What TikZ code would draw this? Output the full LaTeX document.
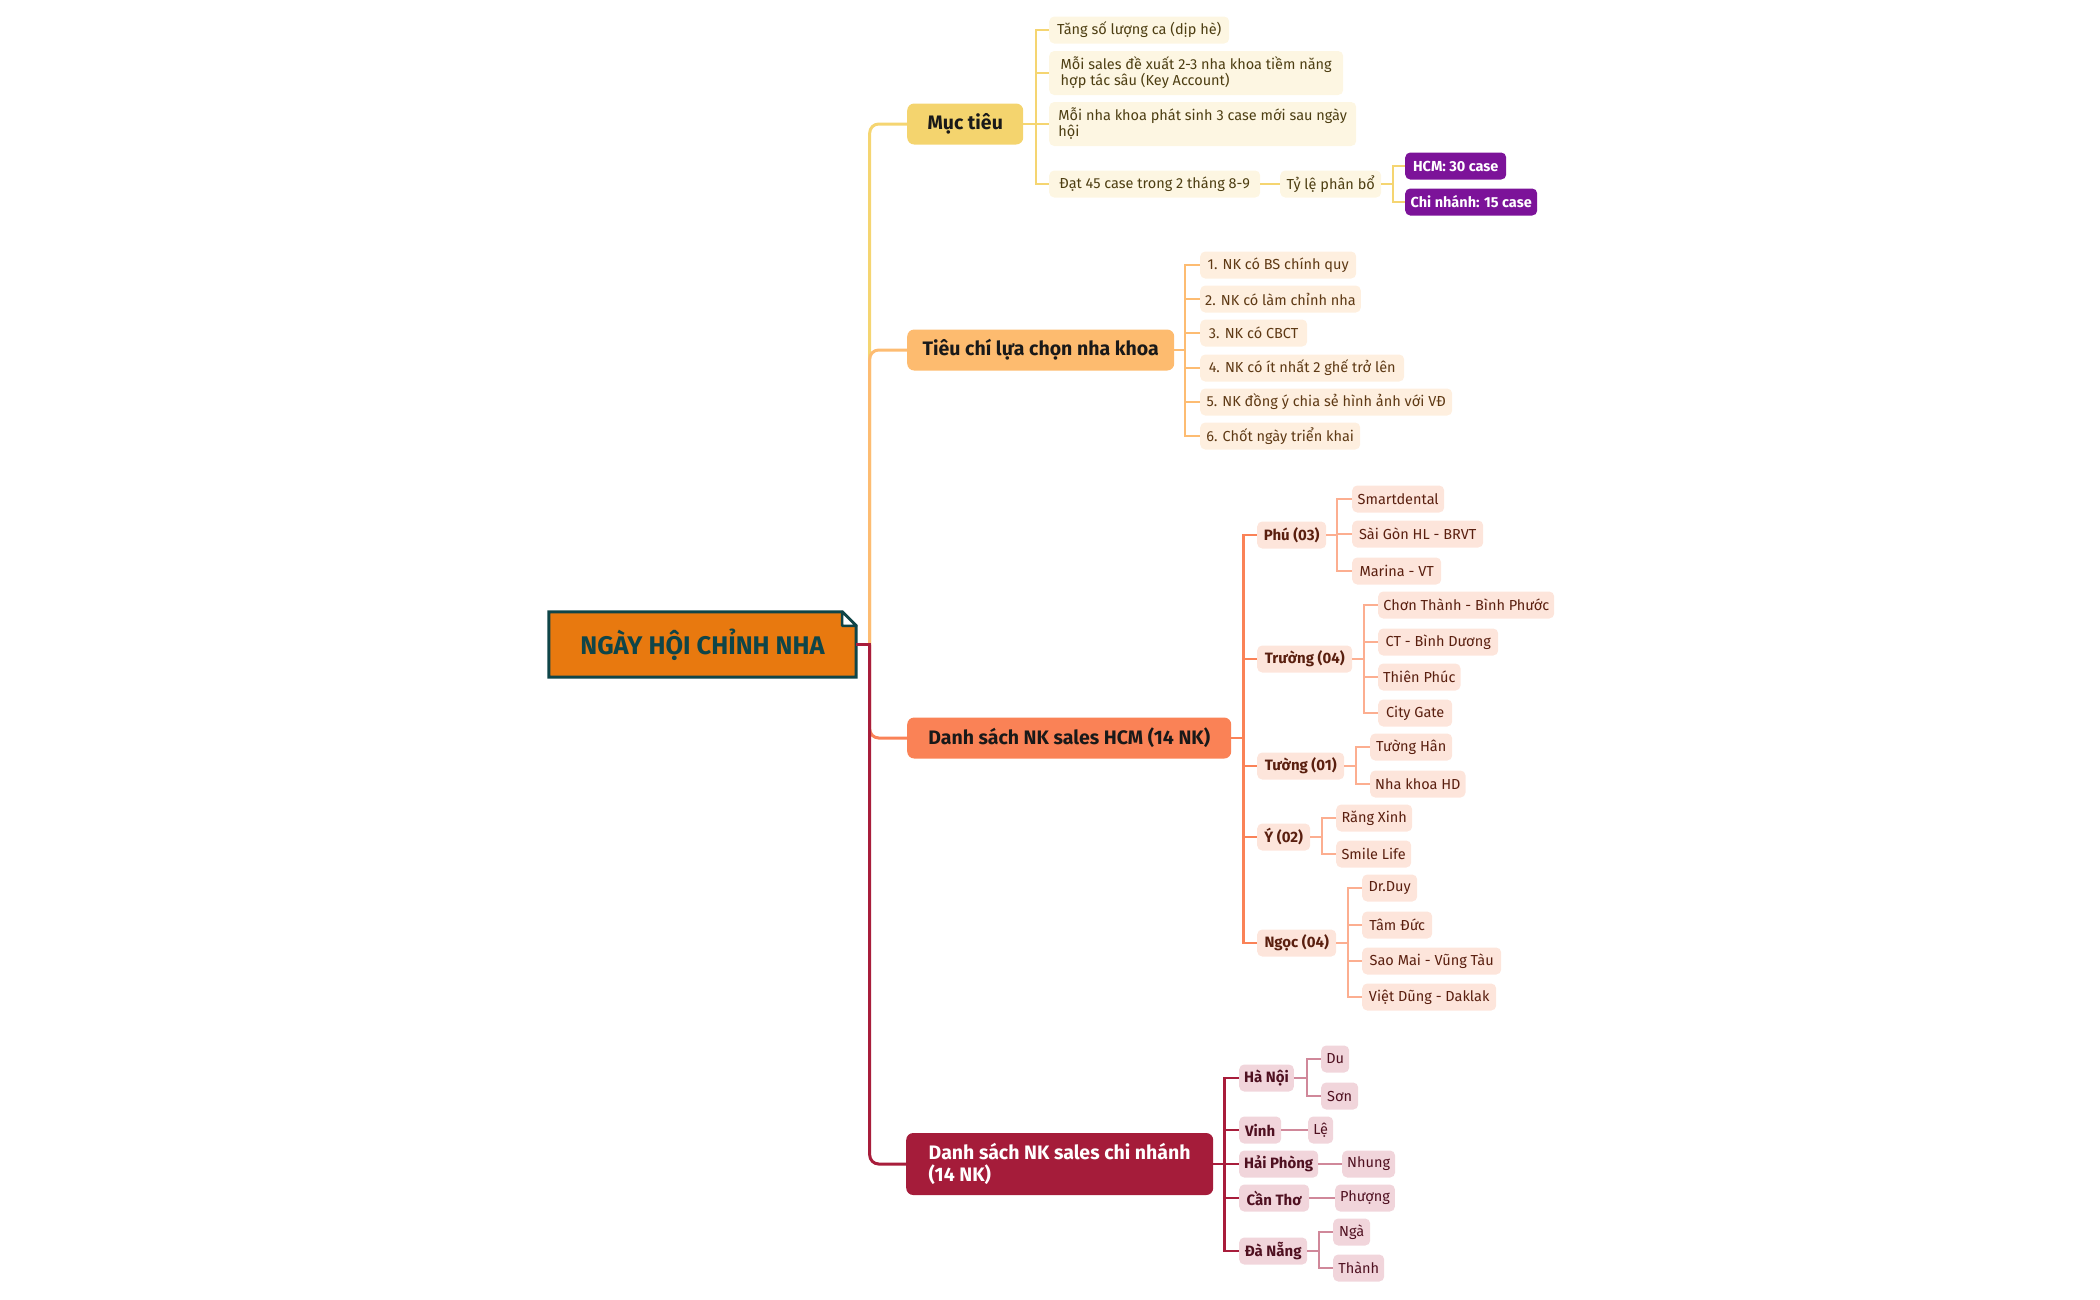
\documentclass[tikz,border=0pt]{standalone}
\usepackage{fontspec}
\setmainfont{Fira Sans}
\usetikzlibrary{backgrounds}
\definecolor{yline}{HTML}{F5D571}
\definecolor{yfill}{HTML}{FDF6E2}
\definecolor{ytext}{HTML}{4D3E12}
\definecolor{ymain}{HTML}{F4D46E}
\definecolor{oline}{HTML}{FDBC72}
\definecolor{ofill}{HTML}{FEEFDF}
\definecolor{otext}{HTML}{5E3914}
\definecolor{omain}{HTML}{FDBB6F}
\definecolor{cline}{HTML}{FA8257}
\definecolor{cleaf}{HTML}{FCAE90}
\definecolor{cfill}{HTML}{FDE5DB}
\definecolor{ctext}{HTML}{5A1F0F}
\definecolor{cmain}{HTML}{FA8256}
\definecolor{rline}{HTML}{A81D3B}
\definecolor{rleaf}{HTML}{D0889A}
\definecolor{rfill}{HTML}{F1D5DB}
\definecolor{rtext}{HTML}{4F1020}
\definecolor{rmain}{HTML}{A51C3A}
\definecolor{purp}{HTML}{7C1399}
\definecolor{rootfill}{HTML}{E8790F}
\definecolor{rootline}{HTML}{0F4548}
\begin{document}
\begin{tikzpicture}[x=1pt,y=-1pt,
  box/.style={anchor=west, rounded corners=5pt, inner xsep=5pt, inner ysep=2pt, minimum height=27pt,
    font=\fontsize{14.5}{16}\selectfont},
  sub/.style={box, font=\fontsize{15}{17}\selectfont\bfseries},
  bw/.style={minimum width=#1},
  mainbox/.style={anchor=west, rounded corners=7pt, inner xsep=8pt, minimum height=41pt,
    font=\fontsize{19.5}{22}\selectfont\bfseries},
  leafY/.style={box, fill=yfill, text=ytext},
  leafO/.style={box, fill=ofill, text=otext},
  leafC/.style={box, fill=cfill, text=ctext},
  subC/.style={sub, fill=cfill, text=ctext},
  leafR/.style={box, fill=rfill, text=rtext},
  subR/.style={sub, fill=rfill, text=rtext},
  purpbox/.style={box, font=\fontsize{14.5}{16}\selectfont\bfseries, fill=purp, text=white},
  trunk/.style={line width=3pt, rounded corners=9pt},
  lnY/.style={draw=yline, line width=2pt},
  lnO/.style={draw=oline, line width=2pt},
  lnC/.style={draw=cline, line width=2.5pt},
  lnCl/.style={draw=cleaf, line width=2pt},
  lnR/.style={draw=rline, line width=2.5pt},
  lnRl/.style={draw=rleaf, line width=2pt},
]
\useasboundingbox (0,0) rectangle (2100,1299);

% ---------- root ----------
\node[font=\fontsize{25.5}{28}\selectfont\bfseries, text=rootline,
  minimum width=307pt, minimum height=65pt, inner sep=0pt] (root) at (702.5,644.5) {NGÀY HỘI CHỈNH NHA};
\begin{scope}[on background layer]
\draw[line width=3pt, draw=rootline, fill=rootfill, line join=miter]
  (root.north west) -- ([xshift=-14pt]root.north east) -- ([yshift=-14pt]root.north east)
  -- (root.south east) -- (root.south west) -- cycle;
\draw[line width=2.5pt, draw=rootline, fill=white, line join=round]
  ([xshift=-14pt]root.north east) -- ([xshift=-14pt,yshift=-14pt]root.north east)
  -- ([yshift=-14pt]root.north east) -- cycle;
\end{scope}

% ---------- main branches ----------
\node[mainbox, fill=ymain, text=black!90, bw=116] (muc) at (907,124) {Mục tiêu};
\node[mainbox, fill=omain, text=black!90, bw=267] (tc) at (907,350) {Tiêu chí lựa chọn nha khoa};
\node[mainbox, fill=cmain, text=black!90, bw=324] (hcm) at (907,738) {Danh sách NK sales HCM (14 NK)};
\node[mainbox, fill=rmain, text=white, minimum height=62pt, bw=307, align=left] (cn) at (906,1164)
  {Danh sách NK sales chi nhánh\\(14 NK)};

% ---------- Muc tieu ----------
\node[leafY, bw=180] (y1) at (1049,30) {Tăng số lượng ca (dịp hè)};
\node[leafY, bw=294, minimum height=44pt, align=left] (y2) at (1049,73) {Mỗi sales đề xuất 2-3 nha khoa tiềm năng\\hợp tác sâu (Key Account)};
\node[leafY, bw=307, minimum height=44pt, align=left] (y3) at (1049,124) {Mỗi nha khoa phát sinh 3 case mới sau ngày\\hội};
\node[leafY, bw=211] (y4) at (1049,184) {Đạt 45 case trong 2 tháng 8-9};
\node[leafY, bw=101] (ty) at (1280,184) {Tỷ lệ phân bổ};
\node[purpbox, bw=101] (p1) at (1405,166) {HCM: 30 case};
\node[purpbox, bw=132] (p2) at (1405,202) {Chi nhánh: 15 case};

% ---------- Tieu chi ----------
\node[leafO, bw=156] (o1) at (1200,265) {1. NK có BS chính quy};
\node[leafO, bw=160] (o2) at (1200,299) {2. NK có làm chỉnh nha};
\node[leafO, bw=107] (o3) at (1200,333) {3. NK có CBCT};
\node[leafO, bw=204] (o4) at (1200,368) {4. NK có ít nhất 2 ghế trở lên};
\node[leafO, bw=252] (o5) at (1200,402) {5. NK đồng ý chia sẻ hình ảnh với VĐ};
\node[leafO, bw=160] (o6) at (1200,436) {6. Chốt ngày triển khai};

% ---------- HCM ----------
\node[subC, bw=69] (phu) at (1257,535) {Phú (03)};
\node[subC, bw=95] (truong) at (1257,659) {Trường (04)};
\node[subC, bw=87] (tuong) at (1257,766) {Tường (01)};
\node[subC, bw=53] (yy) at (1257,837) {Ý (02)};
\node[subC, bw=79] (ngoc) at (1257,943) {Ngọc (04)};

\node[leafC, bw=92]  (c1) at (1352,499) {Smartdental};
\node[leafC, bw=131] (c2) at (1352,534) {Sài Gòn HL - BRVT};
\node[leafC, bw=89]  (c3) at (1352,571) {Marina - VT};
\node[leafC, bw=176] (c4) at (1378,605) {Chơn Thành - Bình Phước};
\node[leafC, bw=120] (c5) at (1378,642) {CT - Bình Dương};
\node[leafC, bw=81]  (c6) at (1378,677) {Thiên Phúc};
\node[leafC, bw=74]  (c7) at (1378,713) {City Gate};
\node[leafC, bw=82]  (c8) at (1370,747) {Tường Hân};
\node[leafC, bw=94]  (c9) at (1370,784) {Nha khoa HD};
\node[leafC, bw=76]  (c10) at (1336,818) {Răng Xinh};
\node[leafC, bw=75]  (c11) at (1336,854) {Smile Life};
\node[leafC, bw=55]  (c12) at (1362,888) {Dr.Duy};
\node[leafC, bw=70]  (c13) at (1362,925) {Tâm Đức};
\node[leafC, bw=139] (c14) at (1362,961) {Sao Mai - Vũng Tàu};
\node[leafC, bw=134] (c15) at (1362,997) {Việt Dũng - Daklak};

% ---------- Chi nhanh ----------
\node[subR, bw=54] (hn) at (1239,1078) {Hà Nội};
\node[subR, bw=42] (vinh) at (1239,1130) {Vinh};
\node[subR, bw=76] (hp) at (1239,1164) {Hải Phòng};
\node[subR, bw=70] (ct) at (1239,1198) {Cần Thơ};
\node[subR, bw=68] (dn) at (1239,1251) {Đà Nẵng};

\node[leafR, bw=28] (r1) at (1321,1059) {Du};
\node[leafR, bw=37] (r2) at (1321,1096) {Sơn};
\node[leafR, bw=25] (r3) at (1308,1130) {Lệ};
\node[leafR, bw=52] (r4) at (1342,1164) {Nhung};
\node[leafR, bw=59] (r5) at (1335,1198) {Phượng};
\node[leafR, bw=37] (r6) at (1333,1232) {Ngà};
\node[leafR, bw=51] (r7) at (1333,1268) {Thành};

% ---------- trunk connectors ----------
\draw[trunk, draw=yline] ([xshift=13.5pt]root.east) |- (muc.west);
\draw[trunk, draw=oline] ([xshift=13.5pt]root.east) |- (tc.west);
\draw[trunk, draw=cline] ([xshift=13.5pt]root.east) |- (hcm.west);
\draw[trunk, draw=rline] ([xshift=13.5pt]root.east) |- (cn.west);
\draw[line width=3pt, draw=rline] (root.east) -- ([xshift=15pt]root.east);

% ---------- branch connectors ----------
\foreach \c in {y1,y2,y3,y4} \draw[lnY] (muc.east) -- ++(13,0) |- (\c.west);
\draw[lnY] (y4.east) -- (ty.west);
\foreach \c in {p1,p2} \draw[lnY] (ty.east) -- ++(12,0) |- (\c.west);

\foreach \c in {o1,o2,o3,o4,o5,o6} \draw[lnO] (tc.east) -- ++(11,0) |- (\c.west);

\foreach \c in {phu,truong,tuong,yy,ngoc} \draw[lnC] (hcm.east) -- ++(12,0) |- (\c.west);
\foreach \c in {c1,c2,c3} \draw[lnCl] (phu.east) -- ++(11,0) |- (\c.west);
\foreach \c in {c4,c5,c6,c7} \draw[lnCl] (truong.east) -- ++(12,0) |- (\c.west);
\foreach \c in {c8,c9} \draw[lnCl] (tuong.east) -- ++(12,0) |- (\c.west);
\foreach \c in {c10,c11} \draw[lnCl] (yy.east) -- ++(12,0) |- (\c.west);
\foreach \c in {c12,c13,c14,c15} \draw[lnCl] (ngoc.east) -- ++(12,0) |- (\c.west);

\foreach \c in {hn,vinh,hp,ct,dn} \draw[lnR] (cn.east) -- ++(11,0) |- (\c.west);
\foreach \c in {r1,r2} \draw[lnRl] (hn.east) -- ++(13,0) |- (\c.west);
\draw[lnRl] (vinh.east) -- (r3.west);
\draw[lnRl] (hp.east) -- (r4.west);
\draw[lnRl] (ct.east) -- (r5.west);
\foreach \c in {r6,r7} \draw[lnRl] (dn.east) -- ++(12,0) |- (\c.west);
\end{tikzpicture}
\end{document}
